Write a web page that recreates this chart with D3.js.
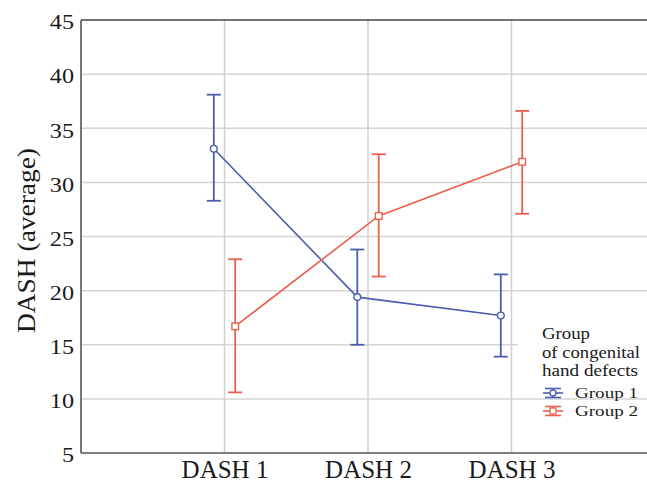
<!DOCTYPE html>
<html>
<head>
<meta charset="utf-8">
<script src="https://cdn.jsdelivr.net/npm/d3@7"></script>
<style>
  html, body { margin: 0; padding: 0; background: #fff; }
  svg { display: block; }
  text { font-family: "Liberation Serif", "Times New Roman", serif; fill: #1a1a1a; }
</style>
</head>
<body>
<svg id="chart" width="647" height="484"></svg>
<script>
const categories = ["DASH 1", "DASH 2", "DASH 3"];
const yTicks = [5, 10, 15, 20, 25, 30, 35, 40, 45];
const group1Mean  = [33.1, 19.4, 17.7];
const group1Lower = [28.3, 15.0, 13.9];
const group1Upper = [38.1, 23.8, 21.5];
const group2Mean  = [16.7, 26.9, 31.9];
const group2Lower = [10.6, 21.3, 27.1];
const group2Upper = [22.9, 32.6, 36.6];
const seriesNames = ["Group 1", "Group 2"];
const legendTitle = ["Group", "of congenital", "hand defects"];
const yTitle = "DASH (average)";

(function () {
const svg = d3.select("#chart");
const W = 647, H = 484;
const mLeft = 81, mTop = 20, mBottom = 453;
const step = 143.5;
const colors = ["#4a5eab", "#ea604e"];
const offsets = [-10.7, 10.7];

const y = d3.scaleLinear().domain([5, 45]).range([mBottom, mTop]);
const x = d3.scalePoint().domain(categories).range([mLeft + step, mLeft + 3 * step]);

// gridlines
const g = svg.append("g");
g.selectAll("line.hg").data(yTicks.filter(t => t > 5 && t < 45)).join("line")
  .attr("x1", mLeft).attr("x2", W).attr("y1", d => y(d)).attr("y2", d => y(d))
  .attr("stroke", "#d4d4d4").attr("stroke-width", 1.5);
g.selectAll("line.vg").data(categories).join("line")
  .attr("x1", d => x(d)).attr("x2", d => x(d)).attr("y1", mTop).attr("y2", mBottom)
  .attr("stroke", "#cfcfcf").attr("stroke-width", 1.5);

// legend background (covers gridline)
svg.append("rect").attr("x", 518).attr("y", 318).attr("width", W - 518).attr("height", 72).attr("fill", "#fff");

// frame
svg.append("line").attr("x1", mLeft).attr("x2", W).attr("y1", mTop).attr("y2", mTop).attr("stroke", "#444").attr("stroke-width", 1.6);
svg.append("line").attr("x1", mLeft).attr("x2", W).attr("y1", mBottom).attr("y2", mBottom).attr("stroke", "#555").attr("stroke-width", 1.4);
svg.append("line").attr("x1", mLeft).attr("x2", mLeft).attr("y1", mTop).attr("y2", mBottom).attr("stroke", "#555").attr("stroke-width", 1.6);

// axes (labels via d3 axes)
const yAxis = svg.append("g").attr("transform", `translate(${mLeft},0)`)
  .call(d3.axisLeft(y).tickValues(yTicks).tickSize(0).tickPadding(7));
yAxis.select(".domain").remove();
yAxis.selectAll("text").attr("font-size", 22).attr("font-family", "Liberation Serif, serif")
  .attr("fill", "#1a1a1a").attr("transform", "scale(1.1,1)").attr("dy", "0.4em")
  .attr("x", -7 / 1.1);

const xAxis = svg.append("g").attr("transform", `translate(0,${mBottom})`)
  .call(d3.axisBottom(x).tickSize(0).tickPadding(10));
xAxis.select(".domain").remove();
xAxis.selectAll("text").attr("font-size", 25).attr("font-family", "Liberation Serif, serif")
  .attr("fill", "#1a1a1a").attr("dy", null).attr("y", 25);

// y title
svg.append("text").attr("transform", `translate(35,${(mTop + mBottom) / 2 + 4}) rotate(-90)`)
  .attr("text-anchor", "middle").attr("font-size", 26).attr("textLength", 185)
  .attr("lengthAdjust", "spacingAndGlyphs").text(yTitle);

// series
const series = [
  { mean: group1Mean, lo: group1Lower, hi: group1Upper },
  { mean: group2Mean, lo: group2Lower, hi: group2Upper }
];
const capW = 7;
series.forEach((s, i) => {
  const c = colors[i];
  const pts = categories.map((cat, j) => ({ cx: x(cat) + offsets[i], m: s.mean[j], lo: s.lo[j], hi: s.hi[j] }));
  const sg = svg.append("g");
  sg.append("path").datum(pts)
    .attr("d", d3.line().x(d => d.cx).y(d => y(d.m)))
    .attr("fill", "none").attr("stroke", c).attr("stroke-width", 1.6);
  sg.selectAll("line.eb").data(pts).join("line")
    .attr("x1", d => d.cx).attr("x2", d => d.cx).attr("y1", d => y(d.lo)).attr("y2", d => y(d.hi))
    .attr("stroke", c).attr("stroke-width", 1.8);
  sg.selectAll("line.ct").data(pts).join("line")
    .attr("x1", d => d.cx - capW).attr("x2", d => d.cx + capW).attr("y1", d => y(d.hi)).attr("y2", d => y(d.hi))
    .attr("stroke", c).attr("stroke-width", 1.8);
  sg.selectAll("line.cb").data(pts).join("line")
    .attr("x1", d => d.cx - capW).attr("x2", d => d.cx + capW).attr("y1", d => y(d.lo)).attr("y2", d => y(d.lo))
    .attr("stroke", c).attr("stroke-width", 1.8);
  if (i === 0) {
    sg.selectAll("circle").data(pts).join("circle")
      .attr("cx", d => d.cx).attr("cy", d => y(d.m)).attr("r", 3.4)
      .attr("fill", "#fff").attr("stroke", c).attr("stroke-width", 1.4);
  } else {
    sg.selectAll("rect").data(pts).join("rect")
      .attr("x", d => d.cx - 3.3).attr("y", d => y(d.m) - 3.3).attr("width", 6.6).attr("height", 6.6)
      .attr("fill", "#fff").attr("stroke", c).attr("stroke-width", 1.4);
  }
});

// legend
const lg = svg.append("g");
lg.selectAll("text.t").data(legendTitle).join("text")
  .attr("x", 542).attr("y", (d, i) => 339 + i * 18.5).attr("font-size", 16.5)
  .attr("textLength", (d, i) => [48, 98, 96][i]).attr("lengthAdjust", "spacingAndGlyphs")
  .text(d => d);
seriesNames.forEach((name, i) => {
  const cy = 393 + i * 18;
  const c = colors[i];
  const cx = 553;
  lg.append("line").attr("x1", cx - 10).attr("x2", cx + 10).attr("y1", cy).attr("y2", cy).attr("stroke", c).attr("stroke-width", 1.6);
  lg.append("line").attr("x1", cx - 8).attr("x2", cx + 8).attr("y1", cy - 4.5).attr("y2", cy - 4.5).attr("stroke", c).attr("stroke-width", 1.6);
  lg.append("line").attr("x1", cx - 8).attr("x2", cx + 8).attr("y1", cy + 4.5).attr("y2", cy + 4.5).attr("stroke", c).attr("stroke-width", 1.6);
  lg.append("line").attr("x1", cx).attr("x2", cx).attr("y1", cy - 4.5).attr("y2", cy + 4.5).attr("stroke", c).attr("stroke-width", 1.4);
  if (i === 0) lg.append("circle").attr("cx", cx).attr("cy", cy).attr("r", 3).attr("fill", "#fff").attr("stroke", c).attr("stroke-width", 1.3);
  else lg.append("rect").attr("x", cx - 3).attr("y", cy - 3).attr("width", 6).attr("height", 6).attr("fill", "#fff").attr("stroke", c).attr("stroke-width", 1.3);
  lg.append("text").attr("x", 575).attr("y", cy + 5).attr("font-size", 15.5)
    .attr("textLength", 63).attr("lengthAdjust", "spacingAndGlyphs").text(name);
});
})();
</script>
</body>
</html>
